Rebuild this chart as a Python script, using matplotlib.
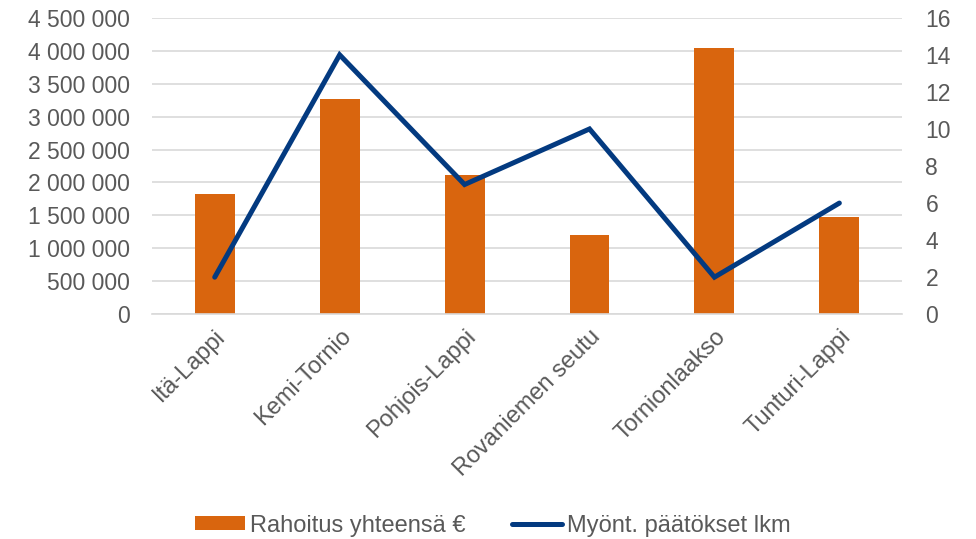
import numpy as np
import matplotlib.pyplot as plt
from matplotlib.ticker import FuncFormatter

regions = ["Itä-Lappi", "Kemi-Tornio", "Pohjois-Lappi", "Rovaniemen seutu", "Tornionlaakso", "Tunturi-Lappi"]
funding = [1820000, 3270000, 2110000, 1200000, 4040000, 1470000]
decisions = [2, 14, 7, 10, 2, 6]

BAR_COLOR = "#D9650E"
LINE_COLOR = "#033A80"
TEXT_COLOR = "#595959"
GRID_COLOR = "#D9D9D9"


def space_thousands(v, pos):
	return "{:,.0f}".format(v).replace(",", " ")


def main():
	plt.rcParams['font.family'] = ['Liberation Sans', 'DejaVu Sans']
	fig = plt.figure(figsize=(9.76, 5.39), dpi=100)
	ax = fig.add_axes([0.156, 0.417, 0.768, 0.55])
	ax2 = ax.twinx()

	x = np.arange(len(regions))
	bars = ax.bar(x, funding, width=0.32, color=BAR_COLOR, zorder=2)
	line, = ax2.plot(x, decisions, color=LINE_COLOR, lw=3.6, solid_capstyle='round',
		solid_joinstyle='miter', zorder=3)

	ax.set_xlim(-0.5, len(regions) - 0.5)
	ax.set_ylim(0, 4500000)
	ax.set_yticks(np.arange(0, 4500001, 500000))
	ax.yaxis.set_major_formatter(FuncFormatter(space_thousands))
	ax2.set_ylim(0, 16)
	ax2.set_yticks(np.arange(0, 17, 2))

	ax.grid(axis='y', color=GRID_COLOR, lw=1.2, zorder=0)
	ax.set_axisbelow(True)
	for a in (ax, ax2):
		for s in a.spines.values():
			s.set_visible(False)
		a.tick_params(length=0, colors=TEXT_COLOR, labelsize=16.5)
	ax.spines['bottom'].set_visible(True)
	ax.spines['bottom'].set_color(GRID_COLOR)
	ax.spines['bottom'].set_linewidth(1.2)
	ax.tick_params(axis='y', pad=16)
	ax2.tick_params(axis='y', pad=17)

	ax.set_xticks(x)
	ax.set_xticklabels(regions, rotation=45, ha='right', rotation_mode='anchor')
	ax.tick_params(axis='x', pad=8, labelsize=17)

	fig.legend([bars, line], ["Rahoitus yhteensä €", "Myönt. päätökset lkm"],
		loc='lower center', bbox_to_anchor=(0.505, -0.035), ncol=2, frameon=False,
		fontsize=17, labelcolor=TEXT_COLOR, handlelength=2.1, handleheight=0.55,
		handletextpad=0.2, columnspacing=2.0)

	fig.savefig("out.png", dpi=100)


if __name__ == '__main__':
	main()
